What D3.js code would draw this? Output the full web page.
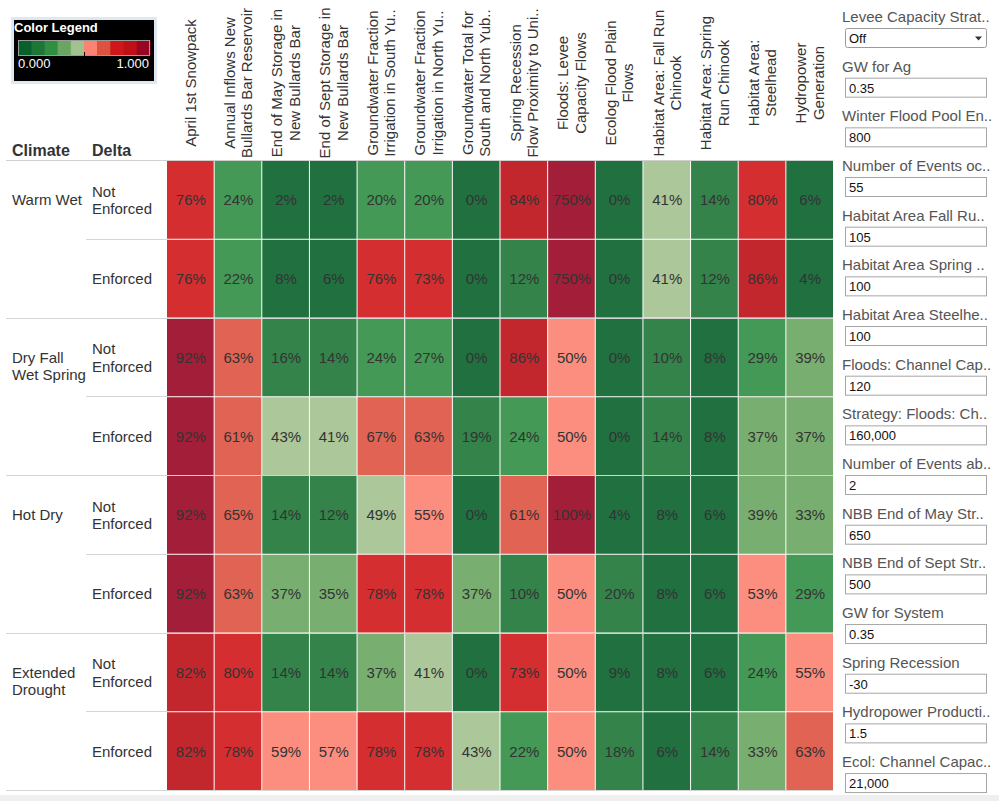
<!DOCTYPE html>
<html>
<head>
<meta charset="utf-8">
<script src="https://cdnjs.cloudflare.com/ajax/libs/d3/7.8.5/d3.min.js"></script>
<style>
  body { margin: 0; background: #fff; }
  text { font-family: Arial, 'Liberation Sans', sans-serif; }
</style>
</head>
<body>
<div id="chart"></div>
<script>
// row / column categories
const climates = ['Warm Wet', 'Dry Fall Wet Spring', 'Hot Dry', 'Extended Drought']
const deltas = ['Not Enforced', 'Enforced']

// column headers, as they are shown (two lines, truncated)
const measures = [
  ['April 1st Snowpack'],
  ['Annual Inflows New', 'Bullards Bar Reservoir'],
  ['End of May Storage in', 'New Bullards Bar'],
  ['End of Sept Storage in', 'New Bullards Bar'],
  ['Groundwater Fraction', 'Irrigation in South Yu..'],
  ['Groundwater Fraction', 'Irrigation in North Yu..'],
  ['Groundwater Total for', 'South and North Yub..'],
  ['Spring Recession', 'Flow Proximity to Uni..'],
  ['Floods: Levee', 'Capacity Flows'],
  ['Ecolog Flood Plain', 'Flows'],
  ['Habitat Area: Fall Run', 'Chinook'],
  ['Habitat Area: Spring', 'Run Chinook'],
  ['Habitat Area:', 'Steelhead'],
  ['Hydropower', 'Generation']
]

// one row per climate x delta, in order
const warmWetNot = [0.76, 0.24, 0.02, 0.02, 0.20, 0.20, 0.00, 0.84, 7.50, 0.00, 0.41, 0.14, 0.797, 0.06]
const warmWetEnf = [0.76, 0.22, 0.08, 0.06, 0.76, 0.73, 0.00, 0.12, 7.50, 0.00, 0.41, 0.12, 0.86, 0.04]
const dryFallNot = [0.92, 0.63, 0.16, 0.14, 0.24, 0.27, 0.00, 0.86, 0.50, 0.00, 0.10, 0.08, 0.29, 0.39]
const dryFallEnf = [0.92, 0.61, 0.43, 0.41, 0.67, 0.63, 0.19, 0.24, 0.50, 0.00, 0.14, 0.08, 0.37, 0.37]
const hotDryNot = [0.92, 0.65, 0.14, 0.12, 0.49, 0.55, 0.00, 0.61, 1.00, 0.04, 0.08, 0.06, 0.39, 0.33]
const hotDryEnf = [0.92, 0.63, 0.37, 0.35, 0.78, 0.78, 0.37, 0.10, 0.50, 0.198, 0.08, 0.06, 0.53, 0.29]
const droughtNot = [0.82, 0.797, 0.14, 0.14, 0.37, 0.41, 0.00, 0.73, 0.50, 0.09, 0.08, 0.06, 0.24, 0.55]
const droughtEnf = [0.82, 0.78, 0.59, 0.57, 0.78, 0.78, 0.43, 0.22, 0.50, 0.18, 0.06, 0.14, 0.33, 0.63]
const rowValues = [warmWetNot, warmWetEnf, dryFallNot, dryFallEnf, hotDryNot, hotDryEnf, droughtNot, droughtEnf]

// parameter panel on the right
const paramLabels = [
  'Levee Capacity Strat..', 'GW for Ag', 'Winter Flood Pool En..', 'Number of Events oc..',
  'Habitat Area Fall Ru..', 'Habitat Area Spring ..', 'Habitat Area Steelhe..', 'Floods: Channel Cap..',
  'Strategy: Floods: Ch..', 'Number of Events ab..', 'NBB End of May Str..', 'NBB End of Sept Str..',
  'GW for System', 'Spring Recession', 'Hydropower Producti..', 'Ecol: Channel Capac..'
]
const paramValues = ['Off', '0.35', '800', '55', '105', '100', '100', '120',
  '160,000', '2', '650', '500', '0.35', '-30', '1.5', '21,000']

const palette = ['#08602b', '#1d7536', '#2f8e42', '#6aa562', '#a3c18f',
  '#fc8272', '#de5240', '#cf1719', '#bd1017', '#990622']

const width = 999
const height = 801

const svg = d3.select('#chart')
  .append('svg')
  .attr('width', width)
  .attr('height', height)

const rows = []
climates.forEach(c => deltas.forEach(d => rows.push(c + '|' + d)))

const xPositionScale = d3.scaleBand()
  .domain(d3.range(measures.length))
  .range([167, 834])

const yPositionScale = d3.scaleBand()
  .domain(rows)
  .range([161, 791])

const colorScale = d3.scaleThreshold()
  .domain(d3.range(1, 10).map(d => d / 10))
  .range(palette)

const fmt = d3.format('.0%')

// flatten to cells
const cells = []
rows.forEach((r, i) => {
  rowValues[i].forEach((v, j) => cells.push({ row: r, col: j, value: v }))
})

// bottom strip
svg.append('rect')
  .attr('x', 0).attr('y', 795)
  .attr('width', width).attr('height', 6)
  .attr('fill', '#efefef')

// heat cells
svg.selectAll('.cell')
  .data(cells)
  .enter()
  .append('rect')
  .attr('class', 'cell')
  .attr('x', d => xPositionScale(d.col))
  .attr('y', d => yPositionScale(d.row))
  .attr('width', xPositionScale.bandwidth() - 1)
  .attr('height', yPositionScale.bandwidth() - 1)
  .attr('fill', d => colorScale(d.value))
  .attr('fill-opacity', 0.9)

svg.selectAll('.cell-label')
  .data(cells)
  .enter()
  .append('text')
  .attr('class', 'cell-label')
  .attr('x', d => xPositionScale(d.col) + xPositionScale.bandwidth() / 2)
  .attr('y', d => yPositionScale(d.row) + yPositionScale.bandwidth() / 2 + 5)
  .attr('text-anchor', 'middle')
  .attr('font-size', 15)
  .attr('fill', '#333')
  .text(d => fmt(d.value))

// grid lines
svg.append('line')
  .attr('x1', 6).attr('x2', 833)
  .attr('y1', 160.5).attr('y2', 160.5)
  .attr('stroke', '#d0d0d0')

rows.forEach((r, i) => {
  const y = Math.round(yPositionScale(r) + yPositionScale.bandwidth()) - 0.5
  if (i % 2 === 1) {
    svg.append('line')
      .attr('x1', 6).attr('x2', 833)
      .attr('y1', y).attr('y2', y)
      .attr('stroke', '#d4d4d4')
  } else {
    svg.append('line')
      .attr('x1', 86).attr('x2', 167)
      .attr('y1', y).attr('y2', y)
      .attr('stroke', '#d4d4d4')
  }
})

// word wrap helper
function wrapText (sel, maxWidth, lineH, firstAtCenter) {
  sel.each(function () {
    const t = d3.select(this)
    const words = t.text().split(' ')
    const x = t.attr('x')
    t.text(null)
    let lines = [[]]
    const probe = t.append('tspan').attr('x', x)
    words.forEach(w => {
      const cur = lines[lines.length - 1]
      probe.text(cur.concat([w]).join(' '))
      if (cur.length && probe.node().getComputedTextLength() > maxWidth) {
        lines.push([w])
      } else {
        cur.push(w)
      }
    })
    probe.remove()
    const start = firstAtCenter ? 0 : -(lines.length - 1) / 2 * lineH
    lines.forEach((l, i) => {
      t.append('tspan')
        .attr('x', x)
        .attr('dy', i === 0 ? start : lineH)
        .text(l.join(' '))
    })
  })
}

// row headers
svg.append('text')
  .attr('x', 12).attr('y', 156)
  .attr('font-size', 16).attr('font-weight', 'bold')
  .attr('fill', '#333')
  .text('Climate')

svg.append('text')
  .attr('x', 92).attr('y', 156)
  .attr('font-size', 16).attr('font-weight', 'bold')
  .attr('fill', '#333')
  .text('Delta')

svg.selectAll('.climate-label')
  .data(climates)
  .enter()
  .append('text')
  .attr('class', 'climate-label')
  .attr('x', 12)
  .attr('y', d => yPositionScale(d + '|' + deltas[0]) + yPositionScale.bandwidth() / 2 + 5)
  .attr('font-size', 15)
  .attr('fill', '#333')
  .text(d => d)
  .call(wrapText, 76, 17.5, true)

svg.selectAll('.delta-label')
  .data(rows)
  .enter()
  .append('text')
  .attr('class', 'delta-label')
  .attr('x', 92)
  .attr('y', d => yPositionScale(d) + yPositionScale.bandwidth() / 2 + 5)
  .attr('font-size', 15)
  .attr('fill', '#333')
  .text(d => d.split('|')[1])
  .call(wrapText, 72, 17.5, false)

// column headers, rotated
const headers = svg.selectAll('.col-header')
  .data(measures)
  .enter()
  .append('g')
  .attr('class', 'col-header')
  .attr('transform', (d, i) => 'translate(' + (xPositionScale(i) + xPositionScale.bandwidth() / 2) + ',83) rotate(-90)')

headers.selectAll('text')
  .data(d => d.map((line, i) => ({ line: line, off: (i - (d.length - 1) / 2) * 17.5 })))
  .enter()
  .append('text')
  .attr('x', 0)
  .attr('y', d => d.off + 5)
  .attr('text-anchor', 'middle')
  .attr('font-size', 15)
  .attr('fill', '#333')
  .text(d => d.line)

// color legend
const legend = svg.append('g')
legend.append('rect')
  .attr('x', 12.5).attr('y', 18.5)
  .attr('width', 143).attr('height', 64)
  .attr('fill', '#000')
  .attr('stroke', '#dde8f1').attr('stroke-width', 3)

legend.append('text')
  .attr('x', 14).attr('y', 32)
  .attr('font-size', 13).attr('font-weight', 'bold')
  .attr('fill', '#fff')
  .text('Color Legend')

const legendScale = d3.scaleBand()
  .domain(d3.range(palette.length))
  .range([18, 150])

legend.selectAll('.swatch')
  .data(palette)
  .enter()
  .append('rect')
  .attr('class', 'swatch')
  .attr('x', (d, i) => legendScale(i))
  .attr('y', 40)
  .attr('width', legendScale.bandwidth() + 0.5)
  .attr('height', 15)
  .attr('fill', d => d)

legend.append('rect')
  .attr('x', 18.5).attr('y', 40.5)
  .attr('width', 131).attr('height', 15)
  .attr('fill', 'none')
  .attr('stroke', '#9a9a9a')

legend.append('line')
  .attr('x1', 84.5).attr('x2', 84.5)
  .attr('y1', 52).attr('y2', 56)
  .attr('stroke', '#000')

legend.append('text')
  .attr('x', 18).attr('y', 68)
  .attr('font-size', 13)
  .attr('fill', '#fff')
  .text('0.000')

legend.append('text')
  .attr('x', 149).attr('y', 68)
  .attr('text-anchor', 'end')
  .attr('font-size', 13)
  .attr('fill', '#fff')
  .text('1.000')

// parameter panel
const paramStep = 49.67
const params = svg.selectAll('.param')
  .data(paramLabels)
  .enter()
  .append('g')
  .attr('class', 'param')
  .attr('transform', (d, i) => 'translate(0,' + (i * paramStep) + ')')

params.append('text')
  .attr('x', 842).attr('y', 22)
  .attr('font-size', 15)
  .attr('fill', '#555')
  .text(d => d)

params.append('rect')
  .attr('x', 845.5).attr('y', 28.5)
  .attr('width', 141).attr('height', 19)
  .attr('rx', (d, i) => i === 0 ? 2 : 0)
  .attr('fill', '#fff')
  .attr('stroke', (d, i) => i === 0 ? '#9a9a9a' : '#a6a6a6')

params.append('text')
  .attr('x', 849).attr('y', 43)
  .attr('font-size', 13)
  .attr('fill', '#111')
  .text((d, i) => paramValues[i])

// dropdown arrow
svg.append('path')
  .attr('d', 'M975,36.5 L982,36.5 L978.5,40.5 Z')
  .attr('fill', '#333')
</script>
</body>
</html>
